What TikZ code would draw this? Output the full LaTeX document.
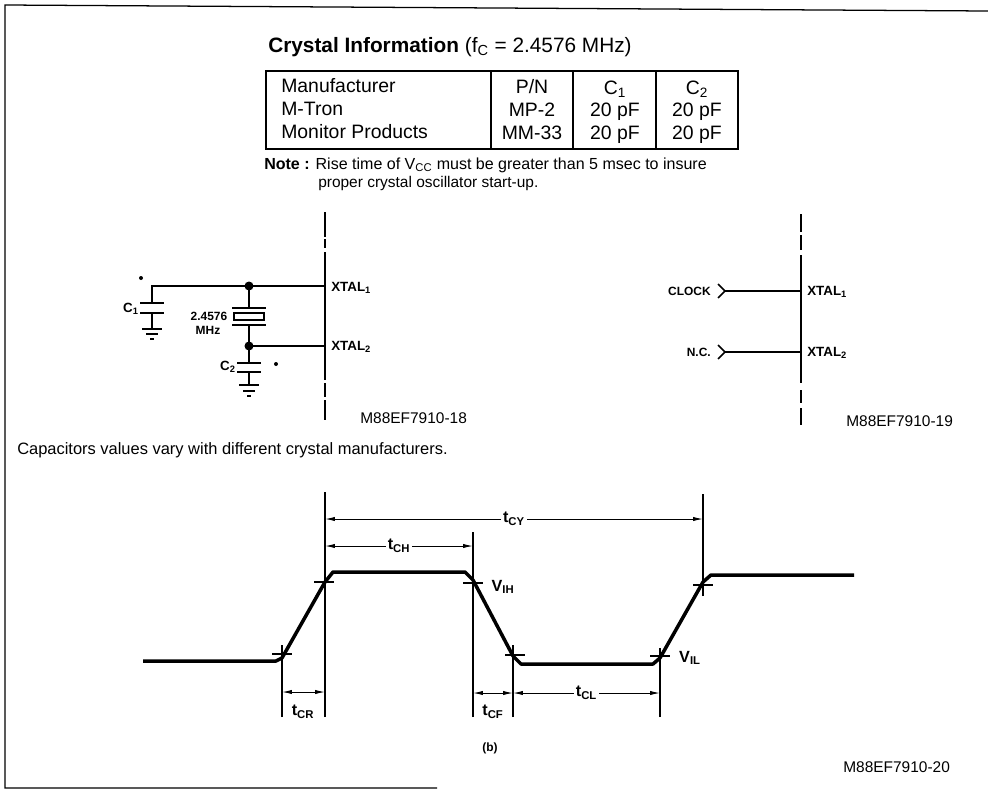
\documentclass[tikz,border=0pt]{standalone}
\usepackage{fontspec}
\setmainfont{Liberation Sans}
\usetikzlibrary{calc,arrows.meta}
\tikzset{
	wire/.style={line width=1.2pt},
	bus/.style={line width=1.3pt},
	dim/.style={line width=0.7pt,{Latex[length=7pt,width=3pt]}-{Latex[length=7pt,width=3pt]}},
	ext/.style={line width=0.8pt},
	pulse/.style={line width=2.5pt,line join=round},
	lbl/.style={inner sep=0pt,font=\fontsize{9.5}{11}\selectfont\bfseries},
	small/.style={inner sep=0pt,font=\fontsize{8.5}{10}\selectfont\bfseries},
	ref/.style={inner sep=0pt,font=\fontsize{11}{13}\selectfont},
	tim/.style={inner sep=1.5pt,fill=white,font=\fontsize{11.5}{13}\selectfont\bfseries},
	cell/.style={inner sep=0pt,font=\fontsize{13.8}{16}\selectfont}
}
\newcommand{\sub}[1]{\textsubscript{#1}}
\begin{document}
\begin{tikzpicture}[x=0.025cm,y=-0.025cm]
	\useasboundingbox (0,0) rectangle (988,790);
	% frame
	\draw[line width=0.9pt] (988,11)--(5,5)--(5,788)--(437,788);

	% title and table
	\node[inner sep=0pt,anchor=west] (title) at (268,47) {\fontsize{14.8}{18}\selectfont\bfseries Crystal Information \mdseries (f\sub{C} = 2.4576 MHz)};
	\draw[line width=0.8pt] (266,71) rectangle (738,149);
	\draw[line width=0.8pt] (491,71)--(491,149);
	\draw[line width=0.8pt] (573,71)--(573,149);
	\draw[line width=0.8pt] (656,71)--(656,149);
	\node[cell,anchor=west] (m1) at (281,86) {Manufacturer};
	\node[cell,anchor=west] (m2) at (281,109) {M-Tron};
	\node[cell,anchor=west] (m3) at (281,132) {Monitor Products};
	\foreach \y/\p/\a/\b [count=\i] in {87/P\slash N/C\sub{1}/C\sub{2},110/MP-2/20 pF/20 pF,133/MM-33/20 pF/20 pF}{
		\node[cell] (p\i) at (532,\y) {\p};
		\node[cell] (a\i) at (615,\y+2) {\a};
		\node[cell] (b\i) at (697,\y+2) {\b};
	}
	\node[inner sep=0pt,anchor=west] (note1) at (264,165) {\fontsize{11.4}{13}\selectfont\textbf{Note :} Rise time of V\sub{CC} must be greater than 5 msec to insure};
	\node[inner sep=0pt,anchor=west] (note2) at (318,183) {\fontsize{11}{13}\selectfont proper crystal oscillator start-up.};

	% crystal circuit
	\coordinate (B1) at (325,286);
	\coordinate (B2) at (325,346);
	\coordinate (J1) at (249,286);
	\coordinate (J2) at (249,346);
	\coordinate (K) at (152,286);
	\foreach \a/\b in {212/237,239/248,252/380,383/397,400/420}{
		\draw[bus] (325,\a)--(325,\b);
	}
	\draw[wire] (B1)--(K)--(152,303);
	\draw[wire] (152,313)--(152,329);
	\draw[wire] (140,303)--(164,303);
	\draw[wire] (140,313)--(164,313);
	\draw[wire] (142,329)--(162,329);
	\draw[wire] (146,334)--(158,334);
	\draw[wire] (150,339)--(154,339);
	\draw[wire] (J1)--(249,308);
	\draw[wire] (232,308)--(266,308);
	\draw[wire] (232,325)--(266,325);
	\draw[line width=2pt] (234,313) rectangle (264,320);
	\draw[wire] (249,325)--(J2);
	\draw[wire] (B2)--(J2)--(249,363);
	\draw[wire] (237,363)--(261,363);
	\draw[wire] (237,372)--(261,372);
	\draw[wire] (249,372)--(249,385);
	\draw[wire] (239,385)--(259,385);
	\draw[wire] (243,391)--(255,391);
	\draw[wire] (247,396)--(251,396);
	\fill (J1) circle (4.5);
	\fill (J2) circle (4.5);
	\fill (141,278) circle (2);
	\fill (276,364) circle (2);
	\node[lbl] (c1) at (131,309) {C\sub{1}};
	\node[lbl] (c2) at (228,367) {C\sub{2}};
	\node[small] (f1) at (209,316) {2.4576};
	\node[small] (f2) at (208,330) {MHz};
	\node[lbl,anchor=west] (x1) at (331,288) {XTAL\sub{1}};
	\node[lbl,anchor=west] (x2) at (331,347) {XTAL\sub{2}};
	\node[ref,anchor=west] (r18) at (360,418) {M88EF7910-18};

	% clock circuit
	\coordinate (D1) at (801,291);
	\coordinate (D2) at (801,352);
	\coordinate (V1) at (725,291);
	\coordinate (V2) at (725,352);
	\foreach \a/\b in {214/232,235/250,255/383,390/403,408/425}{
		\draw[bus] (801,\a)--(801,\b);
	}
	\draw[wire] (V1)--(D1);
	\draw[wire] (V2)--(D2);
	\draw[wire] (718,284)--(V1)--(718,298);
	\draw[wire] (718,345)--(V2)--(718,359);
	\node[small,anchor=east] (clk) at (711,291) {CLOCK};
	\node[small,anchor=east] (nc) at (711,352) {N.C.};
	\node[lbl,anchor=west] (y1) at (807,292) {XTAL\sub{1}};
	\node[lbl,anchor=west] (y2) at (807,353) {XTAL\sub{2}};
	\node[ref,anchor=west] (r19) at (846,421) {M88EF7910-19};

	\node[inner sep=0pt,anchor=west] (caption) at (17,450) {\fontsize{11.7}{13}\selectfont Capacitors values vary with different crystal manufacturers.};

	% timing
	\coordinate (T1) at (282,717);
	\coordinate (T2) at (325,717);
	\coordinate (T3) at (473,717);
	\coordinate (T4) at (513,717);
	\coordinate (T5) at (660,717);
	\draw[ext] (T1)--(282,645);
	\draw[ext] (T2)--(325,492);
	\draw[ext] (T3)--(473,532);
	\draw[ext] (T4)--(513,645);
	\draw[ext] (T5)--(660,648);
	\draw[ext] (703,596)--(703,494);
	\foreach \x/\y in {282/654,324/582,473/583,515/655,660/656,703/585}{
		\draw[ext] (\x-10,\y)--(\x+10,\y);
	}
	\draw[pulse] (143,661)--(276,661)--(282,658)--(325,582)--(333,572)--(465,572)--(473,580)--(513,656)--(521,664)--(653,664)--(660,658)--(703,582)--(711,575)--(854,575);
	\draw[dim] (325,519)--(703,519) node[tim,midway] (tcy) {t\sub{CY}};
	\draw[dim] (325,546)--(473,546) node[tim,midway] (tch) {t\sub{CH}};
	\draw[dim] (282,692)--(325,692);
	\draw[dim] (473,693)--(513,693);
	\draw[dim] (513,693)--(660,693) node[tim,midway] (tcl) {t\sub{CL}};
	\node[tim,fill=none] (tcr) at (303,712) {t\sub{CR}};
	\node[tim,fill=none] (tcf) at (493,712) {t\sub{CF}};
	\node[tim,fill=none] (vih) at (503,587) {V\sub{IH}};
	\node[tim,fill=none] (vil) at (690,658) {V\sub{IL}};
	\node[small] (b) at (490,748) {(b)};
	\node[ref,anchor=west] (r20) at (843,767) {M88EF7910-20};
\end{tikzpicture}
\end{document}
